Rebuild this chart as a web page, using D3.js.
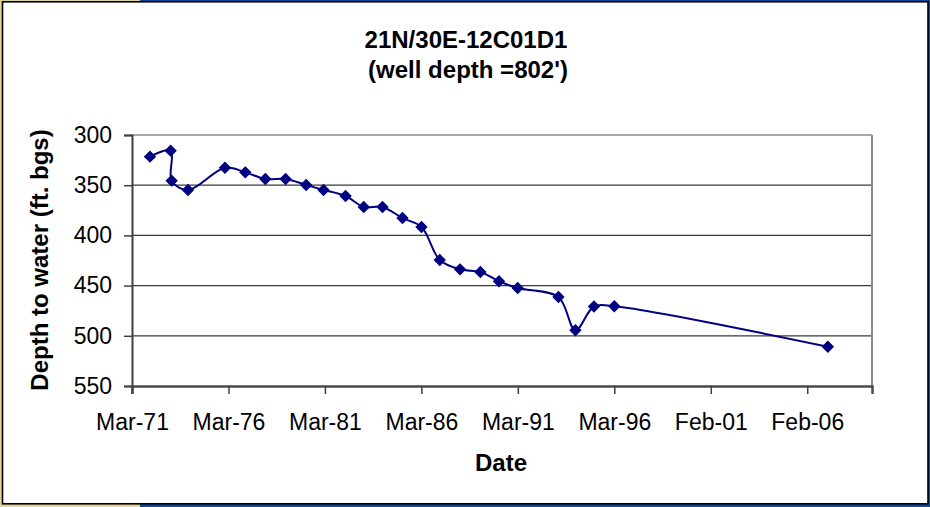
<!DOCTYPE html>
<html>
<head>
<meta charset="utf-8">
<script src="https://cdn.jsdelivr.net/npm/d3@7"></script>
<style>
  html, body { margin: 0; padding: 0; background: #ffffff; }
  svg { display: block; }
  text { font-family: "Liberation Sans", Arial, sans-serif; fill: #000; }
</style>
</head>
<body>
<svg id="chart" width="930" height="507"></svg>
<script>
// ---- data ----
const dates = ["1972-02-11","1973-03-08","1973-03-27","1974-01-30","1975-12-31","1977-01-19",
  "1978-02-01","1979-02-20","1980-03-15","1981-02-07","1982-03-30","1983-03-10","1984-02-27",
  "1985-03-11","1986-03-06","1987-02-15","1988-03-04","1989-03-24","1990-03-11","1991-02-28",
  "1993-04-09","1994-02-24","1995-02-10","1996-03-01","2007-03-24"];
const depths = [321.6,315.6,345.5,354.8,332.6,337.2,343.8,343.8,349.8,354.8,360.8,371.7,371.7,
  382.7,391.6,424.5,433.8,436.5,445.7,452.4,461.4,494.5,470.8,470.6,510.9];
const yTicks = [300,350,400,450,500,550];
const xAxisStart = "1971-03-08";
const xAxisEnd = "2009-07-06";
const xTickStepDays = 1825;
const xTickCount = 8;
const titleLines = ["21N/30E-12C01D1", "(well depth =802')"];
const yLabel = "Depth to water (ft. bgs)";
const xLabel = "Date";

// ---- layout ----
const W = 930, H = 507;
const plot = {left: 132, right: 872, top: 135, bottom: 386};
const svg = d3.select("#chart");
const parse = d3.utcParse("%Y-%m-%d");

// frame
svg.append("rect").attr("x",0).attr("y",0).attr("width",W).attr("height",H).attr("fill","#12479c");
svg.append("rect").attr("x",0).attr("y",0).attr("width",140).attr("height",H).attr("fill","#e2d59c");
svg.append("rect").attr("x",2.5).attr("y",1.8).attr("width",925.5).attr("height",502)
  .attr("fill","#ffffff").attr("stroke","#000").attr("stroke-width",1.6);

const x = d3.scaleUtc().domain([parse(xAxisStart), parse(xAxisEnd)]).range([plot.left, plot.right]);
const y = d3.scaleLinear().domain([300, 550]).range([plot.top, plot.bottom]);

const xTicks = d3.range(xTickCount).map(i => d3.utcDay.offset(parse(xAxisStart), i * xTickStepDays));

// gridlines
svg.append("g").selectAll("line").data(yTicks.slice(0, -1)).join("line")
  .attr("x1", plot.left).attr("x2", plot.right)
  .attr("y1", d => y(d)).attr("y2", d => y(d))
  .attr("stroke", d => d === 300 ? "#8a8a8a" : "#3a3a3a").attr("stroke-width", d => d === 300 ? 1.6 : 1.2);

// right plot border
svg.append("line").attr("x1", plot.right).attr("x2", plot.right).attr("y1", plot.top).attr("y2", plot.bottom)
  .attr("stroke", "#8a8a8a").attr("stroke-width", 2);

// y axis
const yAxis = d3.axisLeft(y).tickValues(yTicks).tickSize(8).tickPadding(12).tickFormat(d3.format("d"));
const gy = svg.append("g").attr("transform", `translate(${plot.left},0)`).call(yAxis);
gy.select(".domain").attr("stroke", "#404040").attr("stroke-width", 2);
gy.selectAll(".tick line").attr("stroke", "#404040").attr("stroke-width", 1.5);
gy.selectAll(".tick text").style("font-size", "23px").attr("fill", "#000");
// small extension of the value axis below the category axis
gy.append("line").attr("x1", 0).attr("x2", 0).attr("y1", plot.bottom).attr("y2", plot.bottom + 7)
  .attr("stroke", "#808080").attr("stroke-width", 1.5);

// x axis
const xAxis = d3.axisBottom(x).tickValues(xTicks).tickSize(8).tickPadding(20).tickFormat(d3.utcFormat("%b-%y"));
const gx = svg.append("g").attr("transform", `translate(0,${plot.bottom})`).call(xAxis);
gx.select(".domain").attr("stroke", "#4a4a4a").attr("stroke-width", 2.5);
gx.selectAll(".tick line").attr("stroke", "#404040").attr("stroke-width", 1.5);
gx.selectAll(".tick text").style("font-size", "23px").attr("fill", "#000");

// series
const data = dates.map((d, i) => ({date: parse(d), v: depths[i]}));
const line = d3.line().x(d => x(d.date)).y(d => y(d.v)).curve(d3.curveCatmullRom.alpha(0.5));
svg.append("path").datum(data).attr("d", line).attr("fill", "none")
  .attr("stroke", "#000080").attr("stroke-width", 2);

const sym = d3.symbol().type(d3.symbolSquare).size(60);
svg.append("g").selectAll("path").data(data).join("path")
  .attr("d", sym)
  .attr("transform", d => `translate(${x(d.date)},${y(d.v)}) rotate(45)`)
  .attr("fill", "#000080").attr("stroke", "#000080").attr("stroke-width", 1);

// titles
svg.append("text").attr("x", 466).attr("y", 48).attr("text-anchor", "middle")
  .style("font-size", "24px").style("font-weight", "bold").text(titleLines[0]);
svg.append("text").attr("x", 468).attr("y", 78).attr("text-anchor", "middle")
  .style("font-size", "24px").style("font-weight", "bold").text(titleLines[1]);

svg.append("text").attr("transform", "translate(48,260) rotate(-90)").attr("text-anchor", "middle")
  .style("font-size", "24px").style("font-weight", "bold").text(yLabel);

svg.append("text").attr("x", 501).attr("y", 471).attr("text-anchor", "middle")
  .style("font-size", "24px").style("font-weight", "bold").text(xLabel);
</script>
</body>
</html>
